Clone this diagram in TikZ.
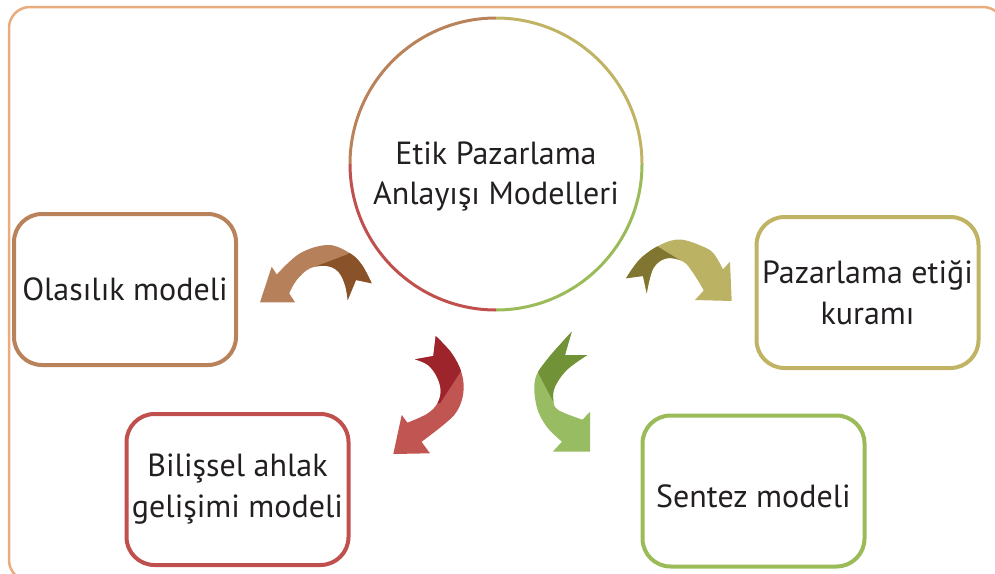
\documentclass[tikz,border=0pt]{standalone}
\usepackage{fontspec}
\setmainfont{PT Sans}
\definecolor{frameC}{RGB}{234,172,126}
\definecolor{brownC}{RGB}{186,130,90}
\definecolor{oliveC}{RGB}{192,180,100}
\definecolor{redC}{RGB}{192,80,77}
\definecolor{greenC}{RGB}{155,187,89}
\definecolor{brL}{RGB}{182,129,90}
\definecolor{brD}{RGB}{138,82,40}
\definecolor{olL}{RGB}{188,178,100}
\definecolor{olD}{RGB}{128,118,50}
\definecolor{rdL}{RGB}{193,85,82}
\definecolor{rdD}{RGB}{158,36,44}
\definecolor{grL}{RGB}{152,188,98}
\definecolor{grD}{RGB}{114,146,56}
\definecolor{txt}{RGB}{35,31,32}
\begin{document}
\begin{tikzpicture}[x=1pt,y=-1pt,
  box/.style={draw, line width=4pt, rounded corners=28pt, minimum width=222pt,
    minimum height=151pt, align=center, font=\fontsize{32}{41}\selectfont, text=txt},
  lbl/.style={align=center, font=\fontsize{32}{41}\selectfont, text=txt},
  quad/.style={line width=3pt},
  sm/.style={smooth,tension=0.6}]
\useasboundingbox (0,0) rectangle (995,573);
\clip (0,0) rectangle (995,573);
% outer frame
\draw[frameC, line width=2.5pt, rounded corners=21pt] (9,7) rectangle (1004,581);
% central circle
\node[circle, minimum size=292pt, inner sep=0pt] (hub) at (496,164) {};
\draw[quad, brownC] (hub.center) ++(180:146) arc[start angle=180, end angle=270, radius=146];
\draw[quad, oliveC] (hub.center) ++(270:146) arc[start angle=270, end angle=360, radius=146];
\draw[quad, greenC] (hub.center) ++(0:146) arc[start angle=0, end angle=90, radius=146];
\draw[quad, redC] (hub.center) ++(90:146) arc[start angle=90, end angle=180, radius=146];
\node[align=center, font=\fontsize{32}{40}\selectfont, text=txt] (hubtext) at (496,176)
  {Etik Pazarlama\\Anlayışı Modelleri};
% boxes
\node[box, draw=brownC] (olas) at (125,289.5) {Olasılık modeli};
\node[box, draw=oliveC] (paz) at (867.5,292.5) {Pazarlama etiği\\kuramı};
\node[box, draw=redC] (bil) at (237.5,489.5) {Bilişsel ahlak\\gelişimi modeli};
\node[box, draw=greenC] (sen) at (753.5,491) {};
\node[lbl] (sentext) at ([yshift=-5pt]sen.center) {Sentez modeli};
% left arrow (brown)
\begin{scope}
\clip (276.8,274.5) -- (271.7,266.7) -- (260,302.3) -- (295,302.3) -- (289.2,293.4)
  -- plot[sm] coordinates {(289.2,293.4) (296.7,280) (310,268.3) (326.7,266) (338.3,271.7) (345,285) (347.7,300)}
  -- (356,280) -- (371.7,283.3)
  -- plot[sm] coordinates {(371.7,283.3) (362,265) (350,253.3) (328.3,245) (300,253.3) (276.8,274.5)} -- cycle;
\fill[brL] (250,230) rectangle (380,310);
\fill[brD] (315,266.7) -- (348.3,254) -- (365,225) -- (400,225) -- (400,320) -- (315,320) -- cycle;
\end{scope}
% right arrow (olive)
\begin{scope}
\clip (723,269.3) -- (730,261.7) -- (731.7,301) -- (695,300) -- (703.75,290.4)
  -- plot[sm] coordinates {(703.75,290.4) (693.3,273.3) (683.3,261.7) (666.7,258.3) (653.3,268.3) (646.7,293.3)}
  -- (643,276) -- (626,278.3)
  -- plot[sm] coordinates {(626,278.3) (640,259) (660,245) (680,239.5) (703.3,246.7) (714,254) (723,269.3)} -- cycle;
\fill[olL] (615,230) rectangle (740,310);
\fill[olD] (685,263.3) -- (656.7,246) -- (645,225) -- (600,225) -- (600,320) -- (685,320) -- cycle;
\end{scope}
% lower left arrow (red)
\begin{scope}
\clip (421.5,441.8) -- (430,453.3) -- (393.3,454) -- (401.7,415) -- (407.4,422.7)
  -- plot[sm] coordinates {(407.4,422.7) (426.7,414) (437,404) (440.7,391) (437,377) (428,365) (415,359.3)}
  -- (433.3,356) -- (435.7,336)
  -- plot[sm] coordinates {(435.7,336) (451.7,353.3) (461.7,373.3) (463.3,393.3) (456.7,411.7) (443.3,425) (421.5,441.8)} -- cycle;
\fill[rdL] (380,320) rectangle (480,465);
\fill[rdD] (440,403.3) -- (461.7,370) -- (490,350) -- (490,320) -- (380,320) -- (380,403.3) -- cycle;
\end{scope}
% lower right arrow (green)
\begin{scope}
\clip (562,441.7) -- (552.7,451.7) -- (590,451.7) -- (590,411.7) -- (582.5,419.7)
  -- plot[sm] coordinates {(582.5,419.7) (558.3,410) (553.3,400) (555,386.7) (566.7,370) (587.3,355)}
  -- (565,355) -- (571.7,331.7)
  -- plot[sm] coordinates {(571.7,331.7) (546.7,360) (535,380) (536.7,406.7) (546.7,426.7) (562,441.7)} -- cycle;
\fill[grL] (520,320) rectangle (600,465);
\fill[grD] (553.3,401.7) -- (536.7,370) -- (510,360) -- (510,320) -- (620,320) -- (620,401.7) -- cycle;
\end{scope}
\end{tikzpicture}
\end{document}
